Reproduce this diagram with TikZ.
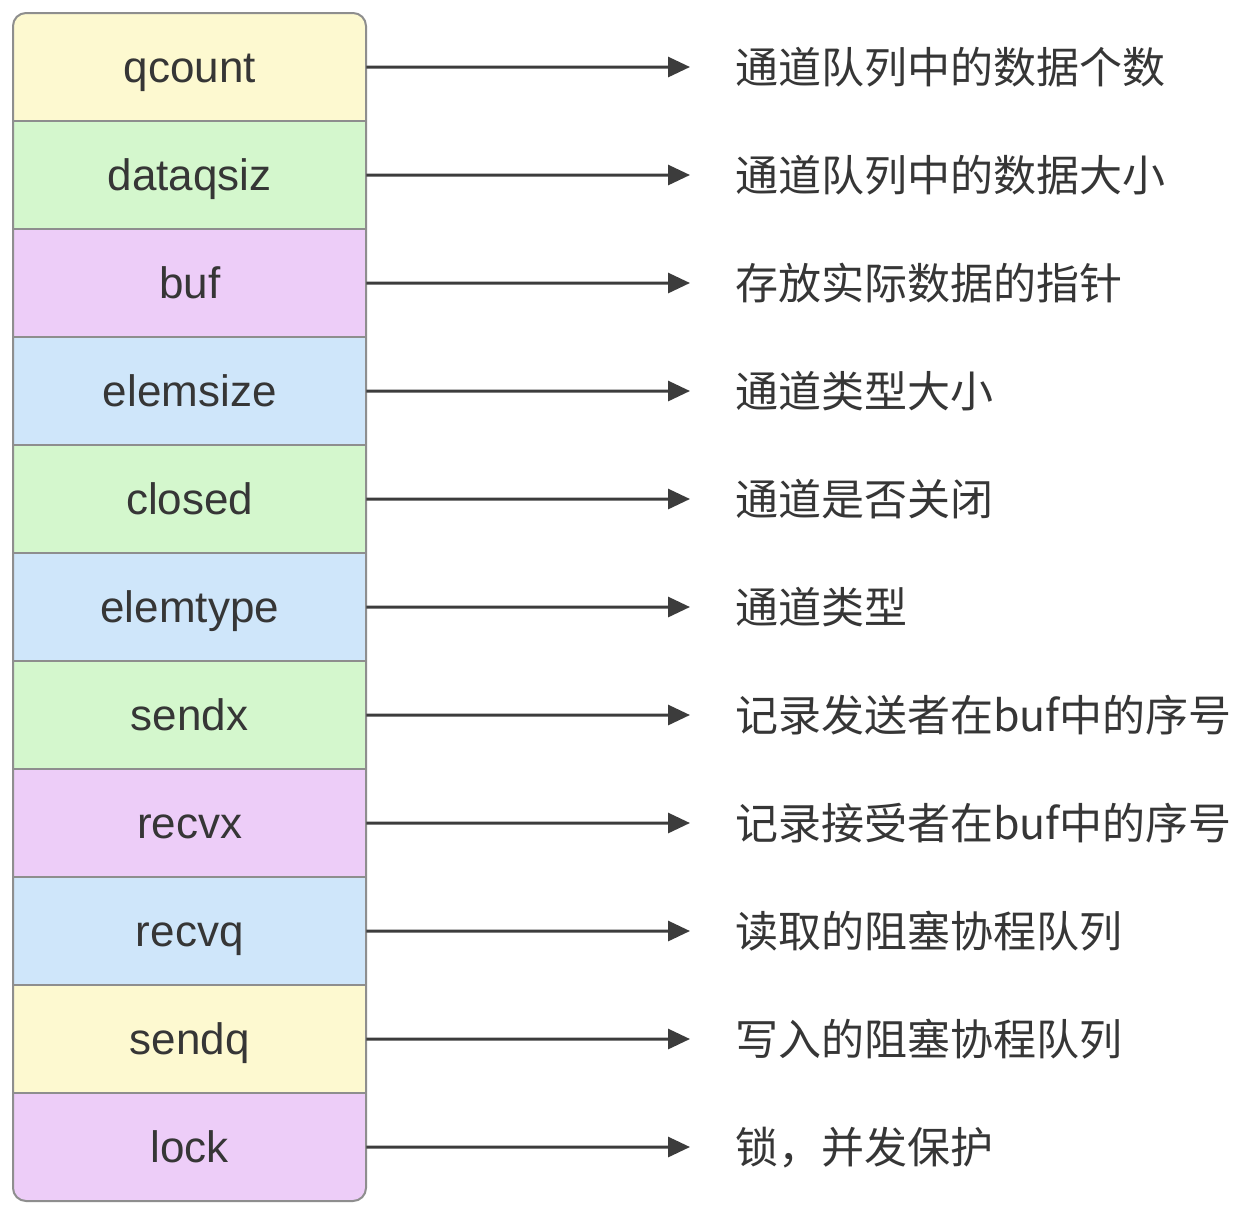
\documentclass[tikz,border=0pt]{standalone}
\usepackage{fontspec}
\newfontfamily\labfont{Liberation Sans}
\newfontfamily\cjk{Noto Sans CJK SC}
\usetikzlibrary{arrows.meta}
\definecolor{cyel}{HTML}{FDF9D0}
\definecolor{cgrn}{HTML}{D4F7CD}
\definecolor{cpnk}{HTML}{EDCDF8}
\definecolor{cblu}{HTML}{CFE6FA}
\definecolor{cline}{HTML}{8E8E8E}
\definecolor{ctext}{HTML}{363636}
\definecolor{carrow}{HTML}{3C3C3C}
\tikzset{
  rowbox/.style={rectangle, minimum width=353pt, minimum height=108pt, inner sep=0pt, anchor=north west},
  lab/.style={font=\labfont\fontsize{44}{50}\selectfont, text=ctext, inner sep=0pt, anchor=base},
  desc/.style={font=\cjk\fontsize{43}{50}\selectfont, text=ctext, inner sep=0pt, anchor=base west},
  conn/.style={draw=carrow, line width=3pt, -{Triangle[length=22pt,width=20pt]}}
}
\begin{document}
\begin{tikzpicture}[x=1pt,y=-1pt]
\useasboundingbox (0,0) rectangle (1235,1208);
\fill[white] (0,0) rectangle (1235,1208);
\begin{scope}
\clip[rounded corners=13pt] (13,13) rectangle (366,1201);
\foreach \i/\c in {1/cyel,2/cgrn,3/cpnk,4/cblu,5/cgrn,6/cblu,7/cgrn,8/cpnk,9/cblu,10/cyel,11/cpnk}{
  \node[rowbox, fill=\c] (r\i) at (13,{13+108*(\i-1)}) {};
}
\end{scope}
\foreach \i in {1,...,10}{
  \draw[cline, line width=2pt] (r\i.south west) -- (r\i.south east);
}
\draw[cline, line width=2pt, rounded corners=13pt] (13,13) rectangle (366,1201);
\foreach \i/\t/\d in {1/qcount/通道队列中的数据个数,2/dataqsiz/通道队列中的数据大小,3/buf/存放实际数据的指针,4/elemsize/通道类型大小,5/closed/通道是否关闭,6/elemtype/通道类型,7/sendx/记录发送者在buf中的序号,8/recvx/记录接受者在buf中的序号,9/recvq/读取的阻塞协程队列,10/sendq/写入的阻塞协程队列,11/lock/锁，并发保护}{
  \node[lab] (l\i) at ([yshift=-15pt]r\i.center) {\t};
  \coordinate (a\i) at (690,{13+108*(\i-0.5)});
  \node[desc] (d\i) at (735,{13+108*(\i-0.5)+16}) {\d};
  \draw[conn] (r\i.east) -- (a\i);
}
\end{tikzpicture}
\end{document}
